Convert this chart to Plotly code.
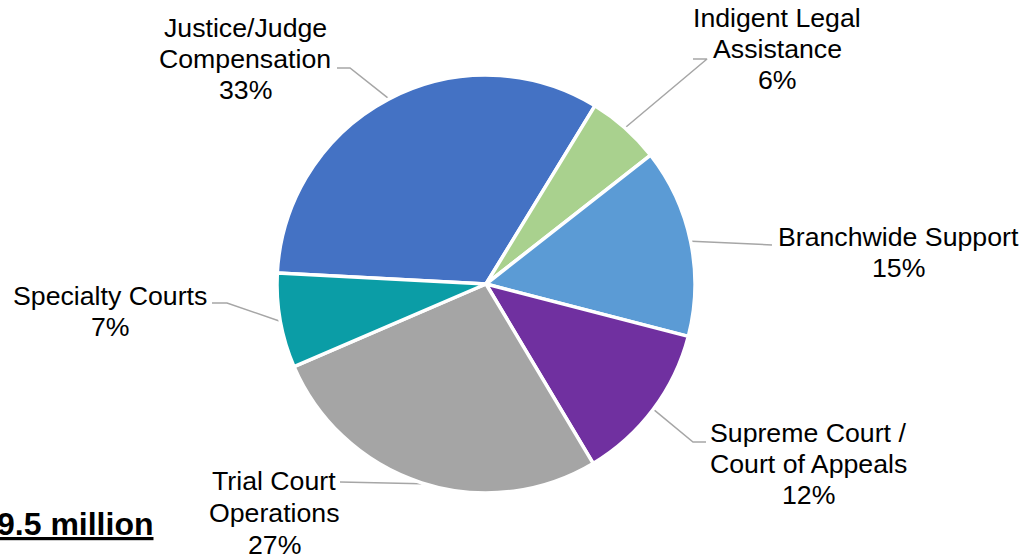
import math
import plotly.graph_objects as go

# ---- data ----
categories = ["Justice/Judge Compensation", "Indigent Legal Assistance", "Branchwide Support",
              "Supreme Court / Court of Appeals", "Trial Court Operations", "Specialty Courts"]
label_lines = [["Justice/Judge", "Compensation"], ["Indigent Legal", "Assistance"],
               ["Branchwide Support"], ["Supreme Court /", "Court of Appeals"],
               ["Trial Court", "Operations"], ["Specialty Courts"]]
values = [32.9, 5.7, 14.6, 12.4, 27.1, 7.3]
colors = ["#4472C4", "#A9D18E", "#5B9BD5", "#7030A0", "#A5A5A5", "#0B9DA6"]
total_text = "9.5 million"

# ---- layout (pixels) ----
W, H = 1028, 560
CX, CY, R = 486, 284, 209
START = -87  # degrees clockwise from 12 o'clock
# label block: center x, y of first line, line step
label_pos = [(245, 28, 31), (777, 18, 31), (898, 237, 31), (808, 433, 31), (274, 481, 32), (110, 296, 31)]
# leader: elbow point, end point (next to label)
leader_pts = [((350, 68), (337, 68)), ((707, 59), (693, 59)), ((760, 245), (772, 245)),
              ((693, 442), (706, 442)), ((345, 482), (340, 482)), ((227, 303), (212, 303))]

fig = go.Figure()
fig.add_trace(go.Pie(
    values=values, labels=categories, sort=False, direction="clockwise", rotation=START,
    marker=dict(colors=colors, line=dict(color="white", width=3.5)),
    textinfo="none", hoverinfo="label+percent", showlegend=False,
    domain=dict(x=[(CX - R) / W, (CX + R) / W], y=[(H - CY - R) / H, (H - CY + R) / H]),
))

tot = sum(values)
acc = 0.0
annotations = []
for i, v in enumerate(values):
    mid = START + 360 * (acc + v / 2) / tot
    acc += v
    a = math.radians(mid)
    px, py = CX + (R + 1) * math.sin(a), CY - (R + 1) * math.cos(a)
    (ex, ey), (tx, ty) = leader_pts[i]
    fig.add_trace(go.Scatter(x=[px, ex, tx], y=[py, ey, ty], mode="lines",
                             line=dict(color="#A6A6A6", width=1.5), hoverinfo="skip",
                             showlegend=False, xaxis="x", yaxis="y"))
    lx, ly, step = label_pos[i]
    lines = label_lines[i] + [f"{round(100 * v / tot)}%"]
    for j, t in enumerate(lines):
        annotations.append(dict(x=lx, y=ly + j * step, xref="x", yref="y", text=t, showarrow=False,
                                xanchor="center", yanchor="middle",
                                font=dict(family="Liberation Sans, Arial", size=26.7, color="black")))

annotations.append(dict(x=155, y=524, xref="x", yref="y", text=f"<b><u>{total_text}</u></b>",
                        showarrow=False, xanchor="right", yanchor="middle",
                        font=dict(family="Liberation Sans, Arial", size=32, color="black")))

fig.update_layout(
    width=W, height=H, margin=dict(l=0, r=0, t=0, b=0),
    paper_bgcolor="white", plot_bgcolor="rgba(0,0,0,0)",
    xaxis=dict(range=[0, W], visible=False, fixedrange=True, domain=[0, 1]),
    yaxis=dict(range=[H, 0], visible=False, fixedrange=True, domain=[0, 1]),
    annotations=annotations,
)
fig.write_html("out.html", config={"displayModeBar": False},
               post_script="document.body.style.margin='0';document.body.style.overflow='hidden';")
